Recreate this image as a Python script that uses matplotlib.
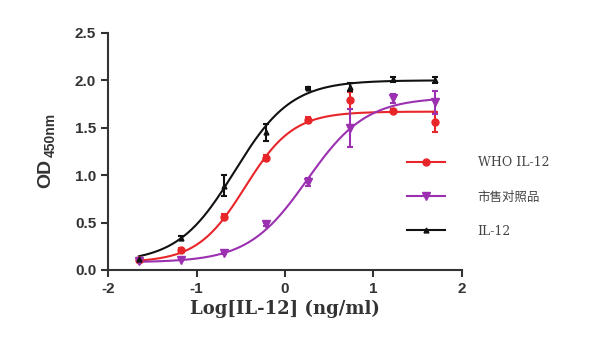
import numpy as np
import matplotlib
matplotlib.use("Agg")
import matplotlib.pyplot as plt

# ---- data ----
log_conc = [-1.65, -1.17, -0.69, -0.21, 0.26, 0.74, 1.22, 1.70]

who_y   = [0.11, 0.21, 0.56, 1.18, 1.58, 1.79, 1.68, 1.56]
who_err = [0.02, 0.02, 0.03, 0.03, 0.03, 0.09, 0.02, 0.11]

mkt_y   = [0.09, 0.11, 0.18, 0.48, 0.93, 1.50, 1.81, 1.77]
mkt_err = [0.01, 0.01, 0.01, 0.02, 0.04, 0.20, 0.05, 0.12]

il_y    = [0.12, 0.34, 0.89, 1.45, 1.92, 1.93, 2.01, 2.00]
il_err  = [0.01, 0.02, 0.11, 0.09, 0.01, 0.04, 0.03, 0.03]

# 4PL fit parameters: bottom, top, logEC50, hill
who_fit = (0.08, 1.67, -0.45, 1.6)
mkt_fit = (0.08, 1.82, 0.25, 1.3)
il_fit  = (0.08, 2.00, -0.57, 1.35)

series_names = ["WHO IL-12", "市售对照品", "IL-12"]
colors = ["#e8262a", "#9b30b0", "#111111"]
markers = ["o", "v", "^"]

x_ticks = [-2, -1, 0, 1, 2]
y_ticks = [0.0, 0.5, 1.0, 1.5, 2.0, 2.5]

fig = plt.figure(figsize=(6.07, 3.58), dpi=100)
ax = fig.add_axes([0.178, 0.246, 0.583, 0.662])

def fourpl(x, b, t, ec, h):
    x = np.asarray(x)
    return b + (t - b) / (1 + 10 ** (h * (ec - x)))

xs = np.linspace(-1.65, 1.70, 300)
ys_list = [who_y, mkt_y, il_y]
errs = [who_err, mkt_err, il_err]
fits = [who_fit, mkt_fit, il_fit]
msizes = [5, 5.5, 3.5]

handles = []
for name, y, e, f, c, m, ms in zip(series_names, ys_list, errs, fits, colors, markers, msizes):
    ax.plot(xs, fourpl(xs, *f), color=c, lw=1.5, zorder=2)
    ax.errorbar(log_conc, y, yerr=e, fmt=m, color=c, ms=ms, capsize=2.5,
                elinewidth=1.5, capthick=1.5, zorder=3)
    h, = ax.plot([], [], color=c, lw=1.5, marker=m, ms=ms, label=name)
    handles.append(h)

ax.set_xlim(-2, 2)
ax.set_ylim(0, 2.5)
ax.set_xticks(x_ticks)
ax.set_yticks(y_ticks)
ax.set_xticklabels([str(t) for t in x_ticks])
ax.set_yticklabels([f"{t:.1f}" for t in y_ticks])

for s in ["top", "right"]:
    ax.spines[s].set_visible(False)
for s in ["left", "bottom"]:
    ax.spines[s].set_linewidth(1.5)
    ax.spines[s].set_color("#333333")
ax.tick_params(direction="out", length=5, width=1.5, color="#333333",
               labelsize=11, labelcolor="#333333")
for lab in ax.get_xticklabels() + ax.get_yticklabels():
    lab.set_fontfamily("Liberation Sans")
    lab.set_fontweight("bold")

# y label: "OD" with subscript "450nm"
fig.text(46 / 607, 1 - 188 / 358, "OD", rotation=90, ha="center", va="bottom",
         fontsize=14, fontweight="bold", family="Liberation Sans", color="#333333")
fig.text(51 / 607, 1 - 157 / 358, "450nm", rotation=90, ha="center", va="bottom",
         fontsize=10, fontweight="bold", family="Liberation Sans", color="#333333")

ax.set_xlabel("Log[IL-12] (ng/ml)", fontsize=13, fontweight="bold",
              family=["DejaVu Serif", "Noto Sans CJK SC"], color="#333333", labelpad=3)

leg = fig.legend(handles=handles, loc="upper left", bbox_to_anchor=(0.652, 0.595),
                 frameon=False, handlelength=3.0, handletextpad=2.65, labelspacing=1.7,
                 prop={"family": ["DejaVu Serif", "Noto Sans CJK SC"], "size": 9})
for t in leg.get_texts():
    t.set_color("#444444")

fig.savefig("out.png", dpi=100)
